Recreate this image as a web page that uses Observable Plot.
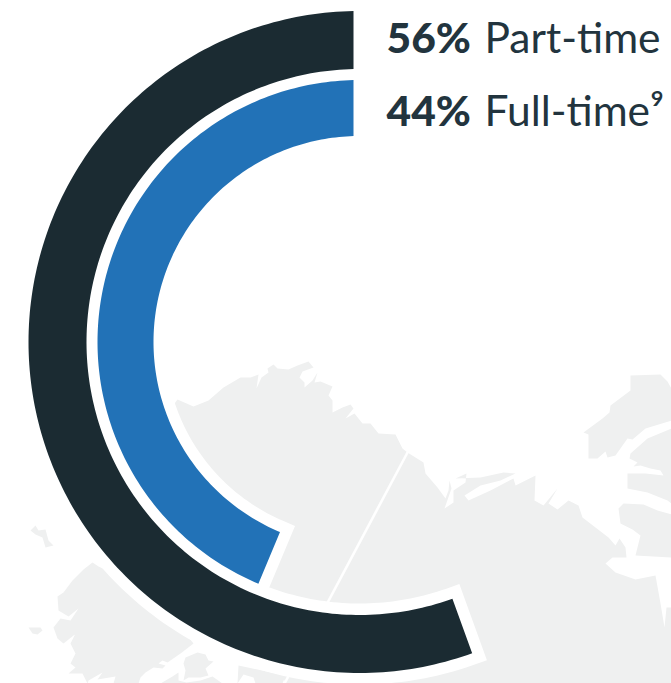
<!DOCTYPE html>
<html><head><meta charset="utf-8">
<style>html,body{margin:0;padding:0;background:#fff}svg{display:block}</style>
<script src="https://cdn.jsdelivr.net/npm/d3@7"></script>
<script src="https://cdn.jsdelivr.net/npm/@observablehq/plot@0.6"></script>
</head><body><div id="chart"></div>
<script>
// Chart values
const shares = [56, 44];
const shareLabels = ["56%", "44%"];
const categories = ["Part-time", "Full-time⁹"];
const colors = ["#1b2b32", "#2272b7"];
const land = "#eff0f0";
const textColor = "#22343e";

// Background map outlines
const coastMain = [[135,400],[165,399],[174,403],[177,399],[193,406],[208,400],[223,387],[240,377],[250,377],[258,374],[256,388],[261,377],[268,372],[267,368],[273,364],[277,368],[288,369],[297,365],[308,361],[313,367],[302,371],[299,377],[304,382],[304,387],[312,380],[317,372],[314,382],[320,381],[332,386],[328,395],[332,400],[332,412],[342,407],[350,404],[353,408],[345,418],[354,413],[362,423],[370,423],[378,433],[395,434],[402,448],[407,452],[423,462],[425,473],[437,487],[445,498],[448,490],[449,480],[451,488],[444,508],[453,502],[453,490],[465,482],[466,473],[455,478],[480,477],[503,472],[515,473],[500,480],[480,485],[464,495],[468,500],[490,490],[513,478],[515,485],[535,475],[534,500],[543,505],[557,488],[548,503],[557,509],[568,500],[578,505],[582,517],[608,537],[615,545],[619,538],[625,547],[626,557],[612,557],[605,563],[615,572],[635,579],[655,575],[660,603],[664,627],[666,607],[671,607],[671,683],[285,683],[270,640],[190,560],[130,460]];
const coastEast = [[630,375],[660,374],[667,381],[671,388],[671,420],[645,428],[632,439],[627,438],[615,455],[607,457],[605,451],[597,458],[588,458],[588,434],[583,432],[602,418],[609,412],[610,405],[630,390]];
const coastInlet = [[671,428],[647,438],[630,453],[629,458],[637,462],[633,466],[640,465],[650,468],[660,470],[663,475],[645,473],[627,473],[627,488],[647,492],[667,500],[671,503]];
const coastBay = [[635,555],[640,535],[632,529],[620,523],[618,508],[623,503],[643,504],[657,510],[671,514],[671,557]];
const coastWest = [[92,562],[98,566],[150,590],[193,643],[180,653],[167,662],[162,660],[158,663],[165,665],[162,668],[153,667],[145,672],[140,677],[138,683],[113,683],[115,676],[97,679],[102,672],[88,680],[87,683],[82,673],[68,673],[75,667],[70,663],[75,653],[70,643],[75,633],[86,627],[73,635],[63,643],[57,638],[53,627],[60,618],[70,620],[78,608],[68,616],[58,610],[57,596],[63,592],[72,580],[83,569]];
const islandNorth = [[30,530],[35,525],[38,530],[45,529],[48,540],[53,545],[45,547],[42,537],[35,534]];
const islandSouth = [[28,627],[40,627],[42,630],[37,634],[32,633]];
const islandBay = [[185,657],[197,652],[205,654],[208,660],[213,661],[205,668],[208,675],[200,677],[188,677],[183,680],[185,670],[183,663]];
const islandShore = [[160,683],[172,676],[178,672],[178,680],[186,682],[200,680],[212,676],[222,683]];
const islandPatch = [[238,665],[285,675],[282,683],[255,683],[253,677],[243,674],[237,683]];
const border = [[407,452],[284,683]];
const mapShapes = [coastMain, coastEast, coastInlet, coastBay, coastWest, islandNorth, islandSouth, islandBay, islandShore, islandPatch];

// Ring construction: each bar sweeps from its share; the start cut is vertical
const cx = 359, cy = 341.5, startOffset = 6, degPerPercent = 3.55;
const rings = [{inner: 273, outer: 331}, {inner: 206, outer: 262}];
function ringPolygon(value, {inner, outer}) {
  const sweep = value * degPerPercent;
  const endDeg = 1.1 + sweep;
  const arc = r => {
    const start = Math.asin(startOffset / r) * 180 / Math.PI;
    return d3.range(start, endDeg, 1).concat(endDeg).map(d => {
      const t = d * Math.PI / 180;
      return [cx - r * Math.sin(t), cy - r * Math.cos(t)];
    });
  };
  const pts = [...arc(outer), ...arc(inner).reverse()];
  return [...pts, pts[0]];
}
const ringPolys = shares.map((v, i) => ringPolygon(v, rings[i]));

const textBase = {fontFamily: "Lato", fill: textColor, textAnchor: "start", lineAnchor: "bottom", fontSize: 42.5};
const rowY = [52, 125];

const plot = Plot.plot({
  width: 671, height: 683,
  margin: 0,
  x: {domain: [0, 671], range: [0, 671], axis: null},
  y: {domain: [0, 683], range: [0, 683], axis: null},
  style: {background: "#fff"},
  marks: [
    ...mapShapes.map(s => Plot.line(s, {x: d => d[0], y: d => d[1], fill: land, stroke: "none", curve: "linear-closed"})),
    Plot.line(border, {x: d => d[0], y: d => d[1], stroke: "#fff", strokeWidth: 2.6}),
    ...ringPolys.map(p => Plot.line(p, {x: d => d[0], y: d => d[1], stroke: "#fff", strokeWidth: 23, strokeLinejoin: "miter", strokeMiterlimit: 10, fill: "#fff"})),
    ...ringPolys.map((p, i) => Plot.line(p, {x: d => d[0], y: d => d[1], stroke: "none", fill: colors[i]})),
    Plot.text(shareLabels, {...textBase, x: () => 386, y: (d, i) => rowY[i], text: d => d, fontWeight: 900}),
    Plot.text(categories, {...textBase, x: () => 484, y: (d, i) => rowY[i], text: d => d, fontWeight: 400})
  ]
});
document.getElementById("chart").append(plot);
</script></body></html>
